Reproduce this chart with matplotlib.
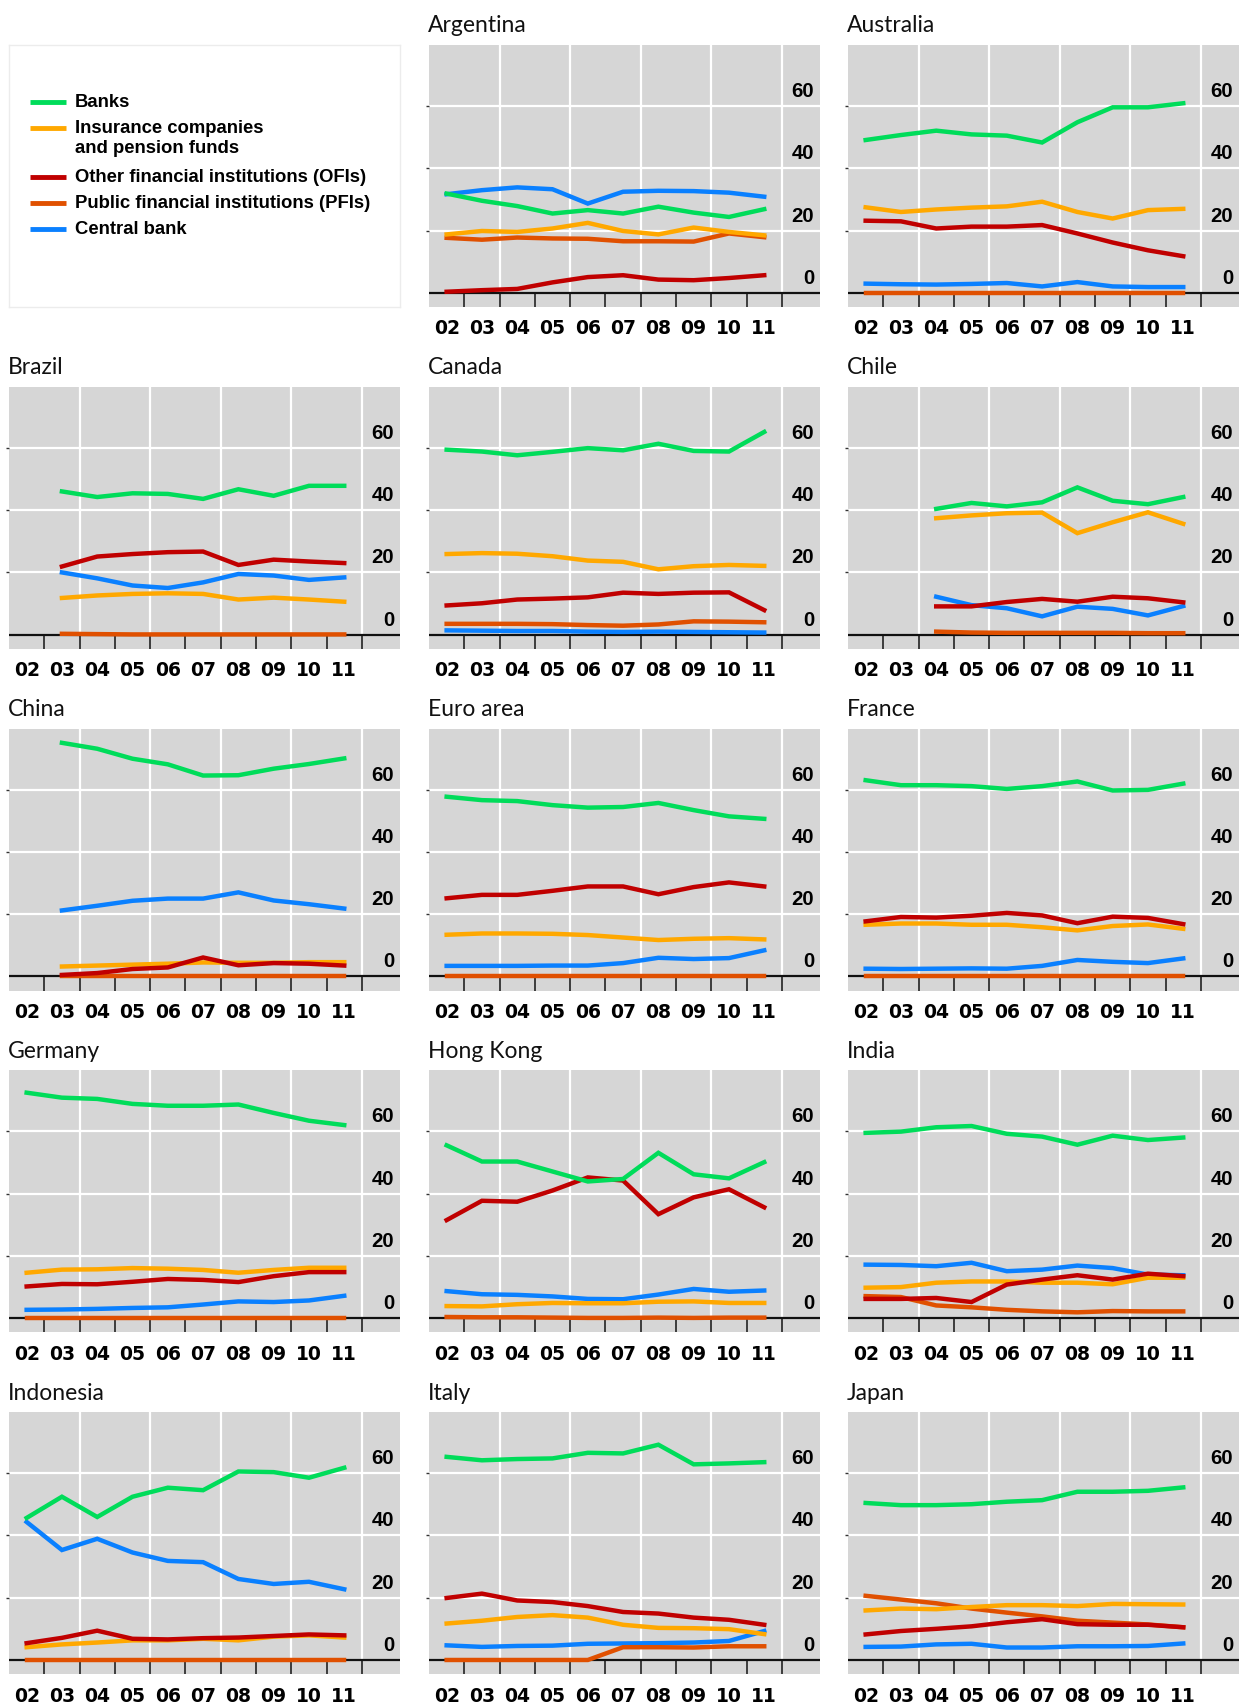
import numpy as np
import matplotlib.pyplot as plt

years = ["02", "03", "04", "05", "06", "07", "08", "09", "10", "11"]
series_names = ["Banks", "Insurance companies\nand pension funds",
                "Other financial institutions (OFIs)",
                "Public financial institutions (PFIs)", "Central bank"]
series_colors = ["#00dc5a", "#ffa800", "#c00000", "#e05000", "#0a80ff"]
series_z = [6, 4, 5, 3, 2]

nan = np.nan
# rows: banks, insurance/pension, OFIs, PFIs, central bank (% of total)
argentina = [
    [31.9, 29.6, 27.9, 25.5, 26.6, 25.5, 27.7, 25.8, 24.4, 26.9],
    [18.8, 19.9, 19.6, 20.7, 22.5, 19.9, 18.8, 21.0, 19.6, 18.5],
    [0.4, 0.9, 1.3, 3.4, 5.1, 5.7, 4.3, 4.1, 4.8, 5.7],
    [17.7, 17.1, 17.8, 17.5, 17.4, 16.6, 16.6, 16.5, 19.1, 17.9],
    [31.7, 33.0, 33.9, 33.3, 28.7, 32.5, 32.8, 32.7, 32.2, 30.9],
]
australia = [
    [49.1, 50.7, 52.1, 50.9, 50.5, 48.3, 54.8, 59.6, 59.6, 60.9],
    [27.5, 26.0, 26.8, 27.4, 27.8, 29.3, 26.0, 23.9, 26.6, 27.0],
    [23.2, 23.0, 20.7, 21.3, 21.3, 21.8, 19.1, 16.2, 13.7, 11.8],
    [0.1, 0.1, 0.1, 0.1, 0.1, 0.1, 0.1, 0.1, 0.1, 0.1],
    [3.0, 2.8, 2.7, 2.9, 3.2, 2.1, 3.5, 2.1, 1.9, 1.9],
]
brazil = [
    [nan, 46.0, 44.2, 45.4, 45.2, 43.6, 46.7, 44.6, 47.8, 47.8],
    [nan, 11.8, 12.6, 13.1, 13.3, 13.1, 11.3, 11.9, 11.3, 10.6],
    [nan, 21.9, 25.1, 25.9, 26.5, 26.7, 22.4, 24.1, 23.5, 23.0],
    [nan, 0.3, 0.2, 0.1, 0.1, 0.1, 0.1, 0.1, 0.1, 0.1],
    [nan, 20.0, 18.1, 15.8, 15.0, 16.8, 19.5, 19.0, 17.6, 18.4],
]
canada = [
    [59.4, 58.8, 57.6, 58.7, 59.9, 59.2, 61.3, 59.0, 58.8, 65.1],
    [25.9, 26.2, 26.0, 25.2, 23.8, 23.4, 21.0, 22.0, 22.4, 22.1],
    [9.4, 10.1, 11.3, 11.6, 12.0, 13.5, 13.1, 13.5, 13.6, 7.9],
    [3.5, 3.5, 3.5, 3.4, 3.1, 2.9, 3.3, 4.3, 4.2, 4.0],
    [1.4, 1.3, 1.2, 1.2, 1.0, 0.9, 1.0, 0.9, 0.8, 0.7],
]
chile = [
    [nan, nan, 40.4, 42.3, 41.2, 42.5, 47.3, 43.0, 41.9, 44.2],
    [nan, nan, 37.4, 38.3, 39.0, 39.2, 32.6, 36.1, 39.3, 35.6],
    [nan, nan, 9.1, 9.1, 10.5, 11.5, 10.6, 12.2, 11.7, 10.4],
    [nan, nan, 1.0, 0.7, 0.6, 0.6, 0.6, 0.6, 0.5, 0.5],
    [nan, nan, 12.2, 9.5, 8.5, 5.9, 9.0, 8.3, 6.2, 9.2],
]
china = [
    [nan, 75.0, 73.1, 69.9, 68.1, 64.5, 64.6, 66.7, 68.2, 70.0],
    [nan, 3.2, 3.5, 3.8, 4.1, 4.5, 4.4, 4.4, 4.6, 4.6],
    [nan, 0.5, 1.1, 2.4, 2.9, 6.1, 3.6, 4.3, 4.1, 3.5],
    [nan, 0.0, 0.0, 0.0, 0.0, 0.0, 0.0, 0.0, 0.0, 0.0],
    [nan, 21.2, 22.7, 24.3, 25.0, 25.0, 27.0, 24.4, 23.2, 21.8],
]
euro_area = [
    [57.7, 56.6, 56.3, 55.0, 54.2, 54.4, 55.7, 53.4, 51.4, 50.6],
    [13.4, 13.8, 13.8, 13.7, 13.3, 12.5, 11.7, 12.1, 12.3, 11.9],
    [25.1, 26.2, 26.2, 27.5, 28.9, 28.9, 26.4, 28.7, 30.2, 28.9],
    [0.0, 0.0, 0.0, 0.0, 0.0, 0.0, 0.0, 0.0, 0.0, 0.0],
    [3.4, 3.4, 3.4, 3.5, 3.5, 4.3, 6.0, 5.6, 5.9, 8.4],
]
france = [
    [63.0, 61.4, 61.4, 61.1, 60.2, 61.1, 62.6, 59.7, 59.9, 61.9],
    [16.6, 17.0, 17.0, 16.6, 16.6, 15.8, 14.8, 16.2, 16.7, 15.3],
    [17.7, 19.1, 18.9, 19.5, 20.4, 19.6, 17.1, 19.2, 18.8, 16.8],
    [0.0, 0.0, 0.0, 0.0, 0.0, 0.0, 0.0, 0.0, 0.0, 0.0],
    [2.5, 2.4, 2.5, 2.6, 2.5, 3.4, 5.3, 4.7, 4.3, 5.8],
]
germany = [
    [72.4, 70.8, 70.4, 68.8, 68.2, 68.2, 68.6, 65.9, 63.4, 62.0],
    [14.6, 15.6, 15.7, 16.1, 15.9, 15.5, 14.6, 15.5, 16.2, 16.2],
    [10.2, 11.0, 10.9, 11.7, 12.6, 12.3, 11.6, 13.5, 14.8, 14.8],
    [0.0, 0.0, 0.0, 0.0, 0.0, 0.0, 0.0, 0.0, 0.0, 0.0],
    [2.7, 2.8, 3.0, 3.3, 3.5, 4.4, 5.4, 5.2, 5.7, 7.2],
]
hong_kong = [
    [55.5, 50.3, 50.3, 47.1, 43.9, 44.7, 53.1, 46.2, 44.9, 50.1],
    [3.9, 3.8, 4.5, 4.9, 4.8, 4.8, 5.3, 5.4, 4.9, 4.9],
    [31.5, 37.7, 37.4, 41.0, 45.2, 44.2, 33.4, 38.8, 41.4, 35.6],
    [0.4, 0.3, 0.3, 0.2, 0.1, 0.1, 0.2, 0.1, 0.2, 0.2],
    [8.7, 7.7, 7.5, 7.0, 6.2, 6.1, 7.6, 9.4, 8.5, 8.9],
]
india = [
    [59.5, 59.9, 61.3, 61.7, 59.2, 58.3, 55.7, 58.6, 57.2, 58.0],
    [9.8, 10.0, 11.4, 11.8, 11.8, 11.4, 11.4, 10.9, 13.0, 13.0],
    [6.2, 6.2, 6.5, 5.2, 10.8, 12.4, 13.8, 12.4, 14.3, 13.5],
    [7.1, 6.8, 4.1, 3.5, 2.7, 2.2, 1.9, 2.3, 2.2, 2.2],
    [17.2, 17.1, 16.7, 17.8, 15.1, 15.6, 16.9, 16.1, 14.0, 13.8],
]
indonesia = [
    [45.6, 52.4, 45.9, 52.4, 55.3, 54.5, 60.5, 60.3, 58.5, 61.7],
    [4.1, 5.0, 5.6, 6.3, 6.3, 6.8, 6.3, 7.5, 7.9, 7.2],
    [5.4, 7.1, 9.4, 6.8, 6.6, 7.0, 7.2, 7.7, 8.2, 7.9],
    [0.0, 0.0, 0.0, 0.0, 0.0, 0.0, 0.0, 0.0, 0.0, 0.0],
    [44.3, 35.3, 38.9, 34.5, 31.8, 31.4, 26.0, 24.4, 25.1, 22.7],
]
italy = [
    [65.2, 64.1, 64.5, 64.7, 66.5, 66.3, 69.1, 62.8, 63.1, 63.5],
    [11.7, 12.6, 13.8, 14.4, 13.6, 11.3, 10.3, 10.2, 9.9, 8.3],
    [19.9, 21.3, 19.1, 18.6, 17.3, 15.4, 14.9, 13.6, 12.9, 11.3],
    [0.0, 0.0, 0.0, 0.0, 0.0, 4.1, 4.1, 4.0, 4.4, 4.4],
    [4.7, 4.2, 4.5, 4.6, 5.2, 5.3, 5.4, 5.6, 6.1, 9.3],
]
japan = [
    [50.4, 49.7, 49.7, 50.0, 50.8, 51.3, 54.0, 54.0, 54.3, 55.4],
    [15.9, 16.5, 16.3, 17.0, 17.6, 17.6, 17.3, 18.0, 17.9, 17.8],
    [8.2, 9.3, 10.0, 10.8, 12.1, 13.1, 11.5, 11.3, 11.3, 10.5],
    [20.6, 19.4, 18.2, 16.5, 15.2, 14.0, 12.6, 12.0, 11.4, 10.5],
    [4.2, 4.3, 5.0, 5.2, 4.0, 4.0, 4.4, 4.4, 4.5, 5.3],
]

panels = [
    ("Argentina", argentina), ("Australia", australia),
    ("Brazil", brazil), ("Canada", canada), ("Chile", chile),
    ("China", china), ("Euro area", euro_area), ("France", france),
    ("Germany", germany), ("Hong Kong", hong_kong), ("India", india),
    ("Indonesia", indonesia), ("Italy", italy), ("Japan", japan),
]

W, H = 1241, 1704
fig = plt.figure(figsize=(W / 100, H / 100), dpi=100)

col_left = [9, 429, 848]
panel_w, panel_h = 391, 262
row_top0, row_step = 45, 341.75
bg = "#d6d6d6"
ylab_font = dict(family="Liberation Sans", fontweight="bold", fontsize=14.7)
xlab_font = dict(family="DejaVu Sans", fontweight="bold", fontsize=13.5)
x = np.arange(len(years)) + 0.5


def box(row, col):
    left = col_left[col]
    top = row_top0 + row * row_step
    return [left / W, 1 - (top + panel_h) / H, panel_w / W, panel_h / H]


# legend panel, laid out in pixel units (y grows downwards)
lax = fig.add_axes(box(0, 0))
lax.set_xlim(0, panel_w)
lax.set_ylim(panel_h, 0)
lax.set_xticks([])
lax.set_yticks([])
for s in lax.spines.values():
    s.set_color("#ececec")
    s.set_linewidth(1)
leg_y = [57, 83, 132, 158, 184]
for k, (label, c) in enumerate(zip(series_names, series_colors)):
    lax.plot([21, 57], [leg_y[k], leg_y[k]], color=c, lw=3.5,
             solid_capstyle="butt")
    lax.text(66, leg_y[k] - 8, label, ha="left", va="top",
             family="Liberation Sans", fontweight="bold", fontsize=13.3,
             linespacing=1.2, color="black")

for i, (name, data) in enumerate(panels):
    pos = i + 1
    row, col = divmod(pos, 3)
    ax = fig.add_axes(box(row, col))
    ax.set_facecolor(bg)
    ax.set_xlim(0, 11.08)
    ax.set_ylim(-4.5, 79.6)
    for s in ax.spines.values():
        s.set_visible(False)

    # white grid, dark ticks under the zero line
    for yv in (20, 40, 60):
        ax.axhline(yv, color="white", lw=1.6, zorder=1)
    ax.vlines([2, 4, 6, 8, 10], 0, 79.6, color="white", lw=1.6, zorder=1)
    ax.vlines(range(1, 11), -4.5, 0, color="#222222", lw=1.2, zorder=1)
    ax.axhline(0, color="#111111", lw=1.6, zorder=1)

    for k in range(5):
        ax.plot(x, data[k], color=series_colors[k], lw=3.2,
                solid_joinstyle="miter", zorder=series_z[k])

    for yv in (0, 20, 40, 60):
        ax.text(10.92, yv + 1.6, str(yv), ha="right", va="bottom",
                color="black", **ylab_font)

    ax.set_xticks(x)
    ax.set_xticklabels(years, **xlab_font)
    ax.tick_params(axis="x", length=0, pad=9)
    ax.set_yticks([20, 40, 60])
    ax.tick_params(axis="y", length=2, width=1, direction="out",
                   labelleft=False, color="#333333")
    ax.set_title(name, loc="left", x=-0.003, pad=9, fontsize=16.5,
                 family="Lato", color="#111111")

fig.savefig("out.png", dpi=100, facecolor="white")
